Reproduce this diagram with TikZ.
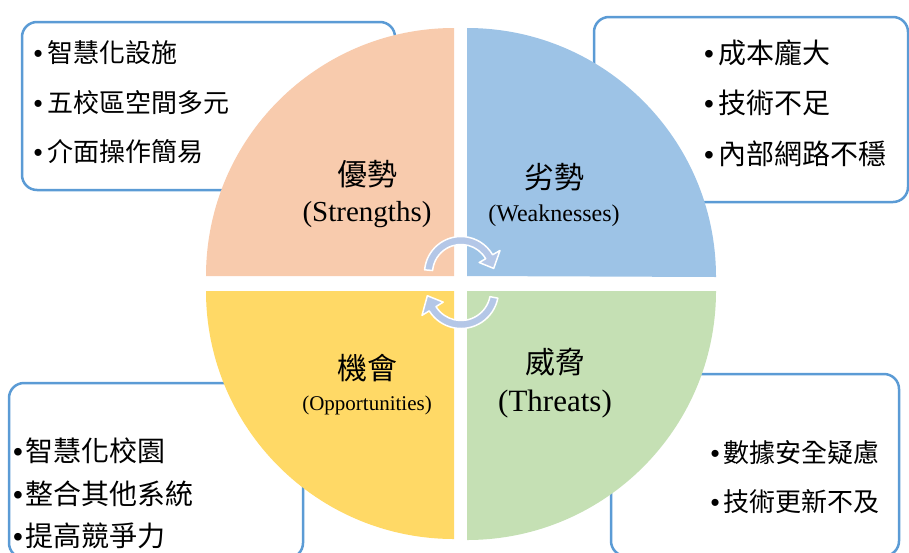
\documentclass[tikz,border=0pt]{standalone}
\usepackage{fontspec}
\usetikzlibrary{calc}
\setmainfont{Liberation Serif}
\newfontfamily\cjk{Noto Sans CJK TC}
\newfontfamily\bulfont{Liberation Sans}
\definecolor{peachq}{HTML}{F8CBAD}
\definecolor{skyq}{HTML}{9DC3E6}
\definecolor{goldq}{HTML}{FFD966}
\definecolor{greenq}{HTML}{C5E0B4}
\definecolor{boxline}{HTML}{5B9BD5}
\definecolor{arrowfill}{HTML}{B4C7E7}
\newcommand{\bulit}[1]{{\bulfont •}\hspace{#1}}
\begin{document}
\begin{tikzpicture}[x=1pt,y=-1pt,
  listbox/.style={draw=boxline, line width=2.5pt, fill=white, rounded corners=15pt},
  item/.style={anchor=west, inner sep=0pt, font=\cjk\fontsize{26}{30}\selectfont},
  bigitem/.style={item, font=\cjk\fontsize{28}{32}\selectfont},
  cjklabel/.style={inner sep=0pt, font=\cjk\fontsize{30}{34}\selectfont},
  enlabel/.style={inner sep=0pt},
  cyc/.style={fill=arrowfill, draw=white, line width=1.5pt, line join=round}]
\useasboundingbox (0,0) rectangle (909,552);
% list boxes
\draw[listbox] (22,22) rectangle (395,190);
\draw[listbox] (594,17) rectangle (908,202);
\draw[listbox] (9,383) rectangle (303,558);
\draw[listbox] (611,374) rectangle (899,556);
% quadrants
\fill[peachq] (454,276) -- (206,276) arc[start angle=180, end angle=270, radius=248] -- cycle;
\fill[skyq] (467,276) -- (467,28) arc[start angle=270, end angle=360, radius=249] -- cycle;
\fill[goldq] (454,291) -- (454,539) arc[start angle=90, end angle=180, radius=248] -- cycle;
\fill[greenq] (467,291) -- (716,291) arc[start angle=0, end angle=90, radius=249] -- cycle;
% cycle arrows
\coordinate (c1) at (461,273);
\coordinate (c2) at (461,291);
\filldraw[cyc] ($(c1)+(185:36.5)$) arc[start angle=185, end angle=330, radius=36.5]
  -- ($(c1)+(330:45)$) -- ($(c1)+(352:33)$) -- ($(c1)+(330:21)$)
  -- ($(c1)+(330:28.5)$) arc[start angle=330, end angle=185, radius=28.5] -- cycle;
\filldraw[cyc] ($(c2)+(11:37.5)$) arc[start angle=11, end angle=148, radius=37.5]
  -- ($(c2)+(148:46)$) -- ($(c2)+(172:34)$) -- ($(c2)+(148:21)$)
  -- ($(c2)+(148:29.5)$) arc[start angle=148, end angle=11, radius=29.5] -- cycle;
% quadrant labels
\node[cjklabel] (sl) at (367,174) {優勢};
\node[enlabel, font=\fontsize{29}{33}\selectfont] (se) at (367,215) {(Strengths)};
\node[cjklabel] (wl) at (554,177) {劣勢};
\node[enlabel, font=\fontsize{24}{28}\selectfont] (we) at (554,216) {(Weaknesses)};
\node[cjklabel] (ol) at (367,368) {機會};
\node[enlabel, font=\fontsize{21}{25}\selectfont] (oe) at (367,405) {(Opportunities)};
\node[cjklabel] (tl) at (555,362) {威脅};
\node[enlabel, font=\fontsize{31}{35}\selectfont] (te) at (555,404) {(Threats)};
% list items
\node[item] (s1) at (33.5,53) {\bulit{4.4pt}智慧化設施};
\node[item] (s2) at (33.5,103) {\bulit{4.4pt}五校區空間多元};
\node[item] (s3) at (33.5,152) {\bulit{4.4pt}介面操作簡易};
\node[bigitem] (w1) at (704,53) {\bulit{4.1pt}成本龐大};
\node[bigitem] (w2) at (704,103) {\bulit{4.1pt}技術不足};
\node[bigitem] (w3) at (704,154) {\bulit{4.1pt}內部網路不穩};
\node[bigitem] (o1) at (13,451) {\bulit{2.1pt}智慧化校園};
\node[bigitem] (o2) at (13,494) {\bulit{2.1pt}整合其他系統};
\node[bigitem] (o3) at (13,536) {\bulit{2.1pt}提高競爭力};
\node[item] (t1) at (710.5,453) {\bulit{3.4pt}數據安全疑慮};
\node[item] (t2) at (710.5,502) {\bulit{3.4pt}技術更新不及};
\end{tikzpicture}
\end{document}
